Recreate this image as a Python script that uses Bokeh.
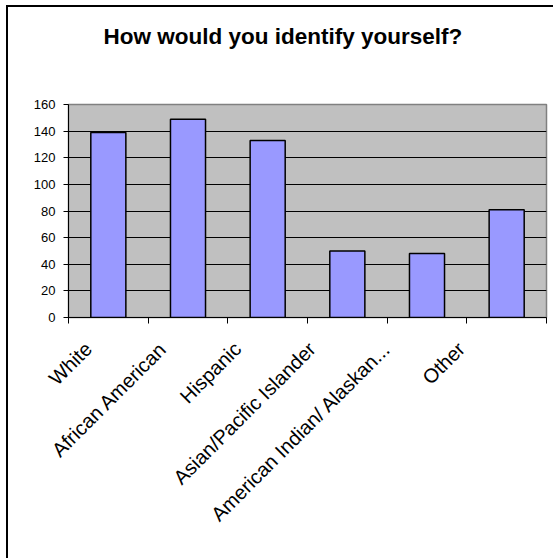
import math
from bokeh.plotting import figure
from bokeh.models import FixedTicker, Range1d, Title
from bokeh.embed import file_html
from bokeh.resources import INLINE

categories = ["White", "African American", "Hispanic", "Asian/Pacific Islander",
              "American Indian/ Alaskan...", "Other"]
counts = [139, 149, 133, 50, 48, 81]
y_ticks = [0, 20, 40, 60, 80, 100, 120, 140, 160]
title_text = "How would you identify yourself?"

n = len(categories)
centers = [i + 0.5 for i in range(n)]
bounds = list(range(n + 1))
# label anchor positions (styling: labels sit slightly left of the bars, as in Excel)
label_pos = [0.25 + 0.936 * i for i in range(n)]

FONT = "Liberation Sans"

p = figure(width=547, height=553, output_backend="svg", toolbar_location=None,
           x_range=Range1d(0, n), y_range=Range1d(0, y_ticks[-1]),
           min_border_left=60, min_border_right=9, min_border_top=97,
           min_border_bottom=243)
p.margin = (5, 0, 0, 6)
p.styles = {"border-top": "2px solid black", "border-left": "2px solid black"}

p.title.text = title_text
p.title.align = "left"
p.title.offset = 35
p.title.text_font = FONT
p.title.text_font_size = "22.5px"
p.title.text_font_style = "bold"
p.title.text_color = "black"
p.title.standoff = 10

# spacer panel between the frame and the title
p.add_layout(Title(text=" ", text_font_size="1px", standoff=48), "above")

p.background_fill_color = "#C0C0C0"
p.border_fill_color = "white"
p.outline_line_color = "#808080"
p.outline_line_width = 1.5

p.vbar(x=centers, top=counts, bottom=0, width=0.44,
       fill_color="#9999FF", line_color="black", line_width=1.5)

# y axis
p.yaxis.ticker = FixedTicker(ticks=y_ticks)
p.yaxis.major_tick_out = 5
p.yaxis.major_tick_in = 0
p.yaxis.minor_tick_out = 0
p.yaxis.minor_tick_in = 0
p.yaxis.major_label_standoff = 8
p.yaxis.axis_line_color = "black"
p.yaxis.major_tick_line_color = "black"
p.yaxis.major_label_text_font = FONT
p.yaxis.major_label_text_font_size = "13px"
p.yaxis.major_label_text_color = "black"

# x axis
p.xaxis.ticker = FixedTicker(ticks=label_pos, minor_ticks=bounds)
p.xaxis.major_label_overrides = {c: lab for c, lab in zip(label_pos, categories)}
p.xaxis.major_label_orientation = math.pi / 4
p.xaxis.major_tick_out = 0
p.xaxis.major_tick_in = 0
p.xaxis.minor_tick_out = 6
p.xaxis.minor_tick_in = 0
p.xaxis.minor_tick_line_color = "black"
p.xaxis.axis_line_color = "black"
p.xaxis.major_label_standoff = 22
p.xaxis.major_label_text_font = FONT
p.xaxis.major_label_text_font_size = "20px"
p.xaxis.major_label_text_color = "black"

p.xgrid.visible = False
p.ygrid.ticker = FixedTicker(ticks=y_ticks)
p.ygrid.grid_line_color = "black"
p.ygrid.grid_line_width = 1

open("out.html", "w").write(file_html(p, INLINE))
